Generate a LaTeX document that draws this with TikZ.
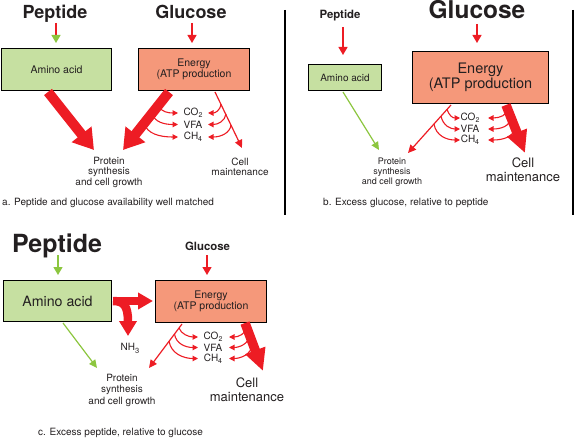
\documentclass[tikz,border=0pt]{standalone}
\usepackage{fontspec}
\setmainfont{TeX Gyre Heros}
\usetikzlibrary{arrows.meta,calc}
\definecolor{ared}{HTML}{ED1C24}
\definecolor{agreen}{HTML}{8CC63F}
\definecolor{boxgreen}{HTML}{C6E0A1}
\definecolor{boxsalmon}{HTML}{F5987A}
\definecolor{txt}{HTML}{231F20}
\newcommand\subs[1]{\raisebox{-0.35ex}{\fontsize{7}{7}\selectfont#1}}
\newcommand\fs[2]{\fontsize{#1}{#2}\selectfont}
\begin{document}
\begin{tikzpicture}[x=1pt,y=-1pt,
  box/.style={draw=black,line width=1.3pt,inner sep=0pt,text=txt,align=center},
  gbox/.style={box,fill=boxgreen},
  ebox/.style={box,fill=boxsalmon},
  lbl/.style={text=txt,inner sep=0pt,align=center},
  gas/.style={lbl,font=\fs{10}{10}},
  ttl/.style={text=txt,inner sep=0pt,anchor=base,font=\bfseries},
  captxt/.style={text=txt,inner sep=0pt,anchor=west,font=\fs{10}{12}},
  feed/.style={line width=1.3pt,-{Triangle[length=8pt,width=9pt]}},
  thinarr/.style={ared,line width=1.2pt,-{Triangle[length=8pt,width=7.5pt]}},
  greenarr/.style={agreen,line width=1.2pt,-{Triangle[length=8pt,width=7.5pt]}},
  arcarr/.style={ared,line width=1.1pt,-{Triangle[length=5.5pt,width=5.5pt]}},
  fat/.style={ared,line width=10pt,-{Triangle[length=20pt,width=24pt]}},
  fatb/.style={ared,line width=9.5pt,-{Triangle[length=22pt,width=20pt]}},
]
\useasboundingbox (0,0) rectangle (576,441);

% ---------------- separators ----------------
\draw[line width=1.2pt,black] (285,10) -- (285,215);
\draw[line width=1.2pt,black] (573,10) -- (573,215);

% ================= PANEL A =================
\node[ttl,font=\bfseries\fs{18}{20}] (aPep) at (55,19) {Peptide};
\node[ttl,font=\bfseries\fs{18}{20}] (aGlu) at (191,19) {Glucose};
\node[gbox,minimum width=110pt,minimum height=42pt,font=\fs{10.5}{12}] (aAA) at (56.5,69.5) {Amino acid};
\node[ebox,minimum width=111pt,minimum height=42pt,font=\fs{10.5}{11.5}] (aEn) at (194,69.5) {Energy\\(ATP production};
\node[gas] (aCO) at (193,113) {CO\subs{2}};
\node[gas] (aVFA) at (193,124.5) {VFA};
\node[gas] (aCH) at (193,137) {CH\subs{4}};
\node[lbl,font=\fs{10}{10.5}] (aProt) at (109,172) {Protein\\synthesis\\and cell growth};
\node[lbl,font=\fs{10}{10.5}] (aCell) at (240,167) {Cell\\maintenance};
\node[captxt] (aCap) at (2,203) {a. Peptide and glucose availability well matched};

\coordinate (aP1) at (56,23); \coordinate (aP2) at (56,43);
\coordinate (aG1) at (192,23); \coordinate (aG2) at (192,43);
\draw[feed,ared,-{Triangle[length=8pt,width=9pt,color=agreen]}] (aP1) -- (aP2);
\draw[feed,ared] (aG1) -- (aG2);

% arcs left (from fat arrow)
\coordinate (aL1) at (158,106); \coordinate (aL1e) at (178,113);
\coordinate (aL2) at (152,114); \coordinate (aL2e) at (178,124.5);
\coordinate (aL3) at (144,123); \coordinate (aL3e) at (178,137);
\draw[arcarr] (aL1) .. controls (162,112) and (168,113) .. (aL1e);
\draw[arcarr] (aL2) .. controls (155,122) and (164,124.5) .. (aL2e);
\draw[arcarr] (aL3) .. controls (147,134) and (160,137) .. (aL3e);
% arcs right (from thin line)
\coordinate (aR1) at (221,104); \coordinate (aR1e) at (208,113);
\coordinate (aR2) at (226,114); \coordinate (aR2e) at (208,124.5);
\coordinate (aR3) at (231,125); \coordinate (aR3e) at (208,137);
\draw[arcarr] (aR1) .. controls (220,111) and (215,113) .. (aR1e);
\draw[arcarr] (aR2) .. controls (225,121) and (218,124.5) .. (aR2e);
\draw[arcarr] (aR3) .. controls (230,133) and (221,137) .. (aR3e);

\coordinate (aT1) at (215,92); \coordinate (aT2) at (242,148);
\draw[thinarr] (aT1) -- (aT2);
\coordinate (aF1s) at (48,92); \coordinate (aF1e) at (94,150);
\coordinate (aF2s) at (169,92); \coordinate (aF2e) at (123,150);
\draw[fat] (aF1s) -- (aF1e);
\draw[fat] (aF2s) -- (aF2e);

% ================= PANEL B =================
\node[ttl,font=\bfseries\fs{11.4}{13}] (bPep) at (340,19) {Peptide};
\node[ttl,font=\bfseries\fs{24.5}{26}] (bGlu) at (477,19) {Glucose};
\node[gbox,minimum width=73pt,minimum height=26pt,font=\fs{10}{12}] (bAA) at (345,77.5) {Amino acid};
\node[ebox,minimum width=136pt,minimum height=52pt,font=\fs{14.5}{15.5}] (bEn) at (480.5,77.5) {Energy\\(ATP production};
\node[gas] (bCO) at (470,118) {CO\subs{2}};
\node[gas] (bVFA) at (470,129) {VFA};
\node[gas] (bCH) at (470,140) {CH\subs{4}};
\node[lbl,font=\fs{9}{10}] (bProt) at (392,172) {Protein\\synthesis\\and cell growth};
\node[lbl,font=\fs{13}{14}] (bCell) at (523,170) {Cell\\maintenance};
\node[captxt] (bCap) at (323,203) {b. Excess glucose, relative to peptide};

\coordinate (bP1) at (343,27); \coordinate (bP2) at (343,55);
\coordinate (bG1) at (477,24); \coordinate (bG2) at (477,43);
\draw[feed,ared] (bP1) -- (bP2);
\draw[feed,ared] (bG1) -- (bG2);

\coordinate (bL1) at (447,109); \coordinate (bL1e) at (460,118);
\coordinate (bL2) at (441,116); \coordinate (bL2e) at (460,129);
\coordinate (bL3) at (434,124); \coordinate (bL3e) at (460,140);
\draw[arcarr] (bL1) .. controls (449,116) and (453,118) .. (bL1e);
\draw[arcarr] (bL2) .. controls (443,126) and (451,129) .. (bL2e);
\draw[arcarr] (bL3) .. controls (436,136) and (447,140) .. (bL3e);
\coordinate (bR1) at (508,109); \coordinate (bR1e) at (488,118);
\coordinate (bR2) at (511,118); \coordinate (bR2e) at (488,129);
\coordinate (bR3) at (515,127); \coordinate (bR3e) at (488,140);
\draw[arcarr] (bR1) .. controls (507,115) and (500,118) .. (bR1e);
\draw[arcarr] (bR2) .. controls (510,126) and (501,129) .. (bR2e);
\draw[arcarr] (bR3) .. controls (514,137) and (503,140) .. (bR3e);

\coordinate (bGr1) at (343,92); \coordinate (bGr2) at (379,150);
\draw[greenarr] (bGr1) -- (bGr2);
\coordinate (bT1) at (451,105); \coordinate (bT2) at (408,153);
\draw[thinarr] (bT1) -- (bT2);
\coordinate (bF1) at (506,105); \coordinate (bF2) at (525,153);
\draw[fatb] (bF1) -- (bF2);

% ================= PANEL C =================
\node[ttl,font=\bfseries\fs{25}{27}] (cPep) at (57,252) {Peptide};
\node[ttl,font=\bfseries\fs{11.4}{13}] (cGlu) at (207.5,250) {Glucose};
\node[gbox,minimum width=108pt,minimum height=41pt,font=\fs{14.2}{16}] (cAA) at (57.5,301) {Amino acid};
\node[ebox,minimum width=111pt,minimum height=42pt,font=\fs{10.5}{11.5}] (cEn) at (211,301.5) {Energy\\(ATP production};
\node[gas] (cCO) at (213,337) {CO\subs{2}};
\node[gas] (cVFA) at (213,347.5) {VFA};
\node[gas] (cCH) at (213,358.5) {CH\subs{4}};
\node[lbl,font=\fs{10}{11.5}] (cNH) at (130,348) {NH\raisebox{-0.6ex}{\fs{7.5}{8}3}};
\node[lbl,font=\fs{10}{11.5}] (cProt) at (122,390) {Protein\\synthesis\\and cell growth};
\node[lbl,font=\fs{13}{14}] (cCell) at (247,390) {Cell\\maintenance};
\node[captxt] (cCap) at (38,433) {c. Excess peptide, relative to glucose};

\coordinate (cP1) at (58,255); \coordinate (cP2) at (58,275);
\coordinate (cG1) at (207,255); \coordinate (cG2) at (207,275);
\draw[feed,agreen] (cP1) -- (cP2);
\draw[feed,ared] (cG1) -- (cG2);

\coordinate (cL1) at (179,328); \coordinate (cL1e) at (198,337);
\coordinate (cL2) at (174.5,334); \coordinate (cL2e) at (198,347.5);
\coordinate (cL3) at (169,341); \coordinate (cL3e) at (198,358.5);
\draw[arcarr] (cL1) .. controls (181,334) and (189,337) .. (cL1e);
\draw[arcarr] (cL2) .. controls (176,344) and (186,347.5) .. (cL2e);
\draw[arcarr] (cL3) .. controls (171,354) and (184,358.5) .. (cL3e);
\coordinate (cR1) at (246.5,327); \coordinate (cR1e) at (229,337);
\coordinate (cR2) at (249.5,335); \coordinate (cR2e) at (229,347.5);
\coordinate (cR3) at (252.5,343); \coordinate (cR3e) at (229,358.5);
\draw[arcarr] (cR1) .. controls (246,334) and (238,337) .. (cR1e);
\draw[arcarr] (cR2) .. controls (249,344) and (239,347.5) .. (cR2e);
\draw[arcarr] (cR3) .. controls (252,355) and (240,358.5) .. (cR3e);

\coordinate (cGr1) at (63,323); \coordinate (cGr2) at (97,368);
\draw[greenarr] (cGr1) -- (cGr2);
\coordinate (cT1) at (182,324); \coordinate (cT2) at (149,368);
\draw[thinarr] (cT1) -- (cT2);
\coordinate (cF1) at (245,323); \coordinate (cF2) at (263,371);
\draw[fatb] (cF1) -- (cF2);

% amino acid -> energy with NH3 branch
\coordinate (cH1) at (112.5,301); \coordinate (cH2) at (153,301);
\coordinate (cN1) at (113,301); \coordinate (cN2) at (128,336);
\draw[ared,line width=8.5pt,-{Triangle[length=15pt,width=17pt]}] (cN1) .. controls (124,301) and (128,306) .. (cN2);
\draw[ared,line width=8.5pt,-{Triangle[length=15pt,width=16pt]}] (cH1) -- (cH2);
\end{tikzpicture}
\end{document}
